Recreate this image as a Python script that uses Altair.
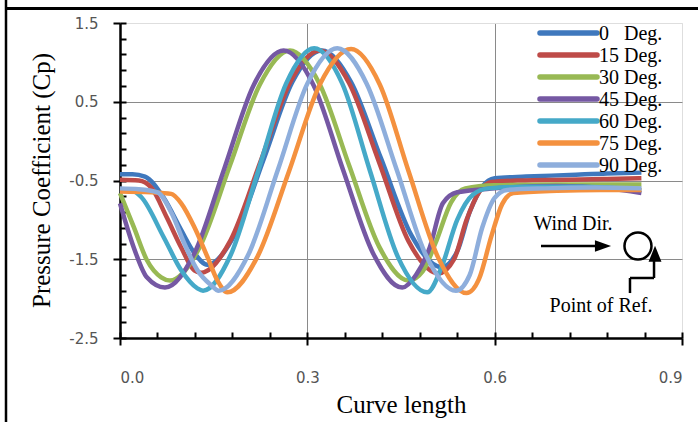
import altair as alt
import pandas as pd

# ---------------- data ----------------
series = ["0 Deg.", "15 Deg.", "30 Deg.", "45 Deg.", "60 Deg.", "75 Deg.", "90 Deg."]
legend_labels = ["0\u00a0\u00a0 Deg.", "15 Deg.", "30 Deg.", "45 Deg.", "60 Deg.", "75 Deg.", "90 Deg."]
colors = ["#3f78bd", "#be4b48", "#98b954", "#7558a3", "#45a9c8", "#f4913f", "#8eaedc"]

x_0 = [0, 0.02, 0.04, 0.07, 0.098, 0.119, 0.14, 0.185, 0.231, 0.276, 0.323, 0.37, 0.418, 0.467, 0.515, 0.54, 0.56, 0.58, 0.6, 0.65, 0.72, 0.78, 0.835]
y_0 = [-0.42, -0.42, -0.45, -0.72, -1.13, -1.42, -1.57, -1.17, -0.21, 0.75, 1.15, 0.75, -0.22, -1.2, -1.6, -1.4, -0.9, -0.58, -0.47, -0.45, -0.43, -0.41, -0.40]

x_15 = [0, 0.03, 0.05, 0.075, 0.098, 0.119, 0.13, 0.177, 0.225, 0.272, 0.32, 0.367, 0.415, 0.462, 0.51, 0.535, 0.555, 0.575, 0.595, 0.64, 0.72, 0.78, 0.835]
y_15 = [-0.49, -0.5, -0.59, -0.97, -1.35, -1.64, -1.67, -1.26, -0.26, 0.74, 1.15, 0.735, -0.27, -1.27, -1.68, -1.5, -1.0, -0.65, -0.52, -0.5, -0.49, -0.48, -0.47]

x_30 = [0, 0.022, 0.043, 0.066, 0.08, 0.128, 0.176, 0.224, 0.272, 0.32, 0.367, 0.415, 0.462, 0.485, 0.505, 0.53, 0.553, 0.6, 0.7, 0.835]
y_30 = [-0.66, -1.09, -1.51, -1.73, -1.77, -1.34, -0.31, 0.72, 1.15, 0.72, -0.31, -1.34, -1.77, -1.65, -1.3, -0.78, -0.6, -0.56, -0.55, -0.55]

x_45 = [0, 0.022, 0.043, 0.072, 0.12, 0.167, 0.214, 0.262, 0.31, 0.357, 0.405, 0.452, 0.474, 0.496, 0.517, 0.54, 0.6, 0.7, 0.78, 0.835]
y_45 = [-0.79, -1.35, -1.73, -1.86, -1.41, -0.35, 0.71, 1.15, 0.71, -0.36, -1.42, -1.86, -1.7, -1.35, -0.79, -0.65, -0.6, -0.57, -0.6, -0.66]

x_60 = [0, 0.02, 0.034, 0.07, 0.098, 0.124, 0.133, 0.177, 0.222, 0.266, 0.311, 0.356, 0.40, 0.445, 0.492, 0.515, 0.54, 0.565, 0.59, 0.65, 0.74, 0.835]
y_60 = [-0.62, -0.63, -0.71, -1.22, -1.64, -1.87, -1.9, -1.45, -0.36, 0.73, 1.18, 0.73, -0.37, -1.47, -1.92, -1.6, -1.0, -0.68, -0.6, -0.58, -0.58, -0.62]

x_75 = [0, 0.05, 0.082, 0.098, 0.119, 0.14, 0.156, 0.172, 0.22, 0.271, 0.32, 0.37, 0.416, 0.462, 0.509, 0.555, 0.575, 0.595, 0.612, 0.63, 0.7, 0.77, 0.835]
y_75 = [-0.64, -0.65, -0.67, -0.79, -1.09, -1.47, -1.77, -1.92, -1.47, -0.375, 0.72, 1.17, 0.72, -0.38, -1.47, -1.93, -1.75, -1.2, -0.8, -0.66, -0.63, -0.62, -0.62]

x_90 = [0, 0.03, 0.06, 0.083, 0.103, 0.124, 0.146, 0.158, 0.205, 0.253, 0.30, 0.348, 0.395, 0.443, 0.49, 0.538, 0.56, 0.58, 0.6, 0.62, 0.68, 0.76, 0.835]
y_90 = [-0.6, -0.61, -0.65, -0.92, -1.3, -1.64, -1.83, -1.9, -1.45, -0.36, 0.73, 1.18, 0.73, -0.36, -1.45, -1.9, -1.7, -1.1, -0.72, -0.62, -0.6, -0.59, -0.6]

x_ticks_major = [0.0, 0.3, 0.6, 0.9]
x_ticks_minor = [0.0, 0.06, 0.12, 0.18, 0.24, 0.3, 0.36, 0.42, 0.48, 0.54, 0.6, 0.66, 0.72, 0.78, 0.84, 0.9]
y_ticks_major = [-2.5, -1.5, -0.5, 0.5, 1.5]
y_ticks_minor = [-2.5, -2.3, -2.1, -1.9, -1.7, -1.5, -1.3, -1.1, -0.9, -0.7, -0.5, -0.3, -0.1,
                 0.1, 0.3, 0.5, 0.7, 0.9, 1.1, 1.3, 1.5]

xs_all = [x_0, x_15, x_30, x_45, x_60, x_75, x_90]
ys_all = [y_0, y_15, y_30, y_45, y_60, y_75, y_90]

rows = []
for name, xs, ys in zip(series, xs_all, ys_all):
    assert len(xs) == len(ys), name
    for k, (a, b) in enumerate(zip(xs, ys)):
        rows.append({"series": name, "x": a, "cp": b, "k": k})
df = pd.DataFrame(rows)

leg_df = pd.DataFrame({"series": series, "label": legend_labels, "i": list(range(len(series)))})

# annotation layout (plot-coordinates)
ann_text = pd.DataFrame({"label": ["Wind Dir.", "Point of Ref."],
                         "ax": [0.7254, 0.7703], "ay": [-1.129, -2.166]})
ann_segs = pd.DataFrame({"x1": [0.6742, 0.8167, 0.8167, 0.8552],
                         "x2": [0.7687, 0.8167, 0.8552, 0.8552],
                         "y1": [-1.3317, -1.929, -1.738, -1.738],
                         "y2": [-1.3317, -1.738, -1.738, -1.50]})
ann_heads = pd.DataFrame({"hx": [0.7735, 0.8568], "hy": [-1.3317, -1.43],
                          "shape": ["M-1,-0.7L1,0L-1,0.7Z", "M0,-1L0.8,1L-0.8,1Z"]})
ann_circle = pd.DataFrame({"cx": [0.8295], "cy": [-1.3317]})

# ---------------- chart ----------------
xscale = alt.Scale(domain=[0, 0.9], nice=False, zero=False)
yscale = alt.Scale(domain=[-2.5, 1.5], nice=False, zero=False)
cscale = alt.Scale(domain=series, range=colors)

serif = "Liberation Serif"
label_font = "DejaVu Sans"

x_axis = alt.Axis(values=x_ticks_major, format=".1f", orient="bottom", title="Curve length",
                  domainColor="black", domainWidth=2.5, tickColor="black", tickWidth=2, tickSize=7,
                  labelFont=label_font, labelFontSize=15, labelColor="#555555", labelPadding=25,
                  grid=True, gridWidth=1,
                  gridColor={"condition": {"test": "datum.value > 0.85", "value": "#dedede"}, "value": "#8a8a8a"},
                  titleFont=serif, titleFontSize=25, titleFontWeight="normal", titleColor="black",
                  titleY=74, titleBaseline="alphabetic")
y_axis = alt.Axis(values=y_ticks_major, orient="left", title="Pressure Coefficient (Cp)",
                  labelExpr="datum.value < 0 ? '-' + format(-datum.value, '.1f') : format(datum.value, '.1f')",
                  domainColor="black", domainWidth=2.5, tickColor="black", tickWidth=2, tickSize=7,
                  labelFont=label_font, labelFontSize=15, labelColor="#555555", labelPadding=15,
                  grid=True, gridWidth=1,
                  gridColor={"condition": {"test": "datum.value > 1.4", "value": "#dedede"}, "value": "#8a8a8a"},
                  titleFont=serif, titleFontSize=25, titleFontWeight="normal", titleColor="black",
                  titleX=-71, titleY=157, titleAngle=270, titleBaseline="alphabetic", titleAlign="center")

x_minor = alt.Axis(values=x_ticks_minor, orient="bottom", offset=-6, tickSize=6, tickWidth=2,
                   tickColor="black", labels=False, domain=False, grid=False, title=None)
y_minor = alt.Axis(values=y_ticks_minor, orient="left", offset=-6, tickSize=6, tickWidth=2,
                   tickColor="black", labels=False, domain=False, grid=False, title=None)

lines = alt.Chart(df).mark_line(strokeWidth=4.5, interpolate="monotone").encode(
    x=alt.X("x:Q", scale=xscale, axis=x_axis),
    y=alt.Y("cp:Q", scale=yscale, axis=y_axis),
    color=alt.Color("series:N", scale=cscale, legend=None),
    order="k:Q",
)

leg_base = alt.Chart(leg_df).transform_calculate(
    ly="1.373 - datum.i * 0.2794", lx="0.6726", lx2="0.7639", tx="0.7671")
leg_lines = leg_base.mark_rule(strokeWidth=5.5, strokeCap="round").encode(
    x=alt.X("lx:Q", scale=xscale, axis=None), x2="lx2:Q",
    y=alt.Y("ly:Q", scale=yscale, axis=None),
    color=alt.Color("series:N", scale=cscale, legend=None),
)
leg_text = leg_base.mark_text(align="left", baseline="alphabetic", dy=7, font=serif, fontSize=20,
                              color="black").encode(
    x=alt.X("tx:Q", scale=xscale, axis=None),
    y=alt.Y("ly:Q", scale=yscale, axis=None),
    text="label:N",
)

segs = alt.Chart(ann_segs).mark_rule(strokeWidth=2.5, color="black").encode(
    x=alt.X("x1:Q", scale=xscale, axis=x_minor), x2="x2:Q",
    y=alt.Y("y1:Q", scale=yscale, axis=y_minor), y2="y2:Q",
)
heads = alt.Chart(ann_heads).mark_point(filled=True, color="black", opacity=1, size=260).encode(
    x=alt.X("hx:Q", scale=xscale, axis=None),
    y=alt.Y("hy:Q", scale=yscale, axis=None),
    shape=alt.Shape("shape:N", scale=None),
)
circle = alt.Chart(ann_circle).mark_point(shape="circle", filled=False, color="black", opacity=1,
                                          size=729, strokeWidth=2.5).encode(
    x=alt.X("cx:Q", scale=xscale, axis=None),
    y=alt.Y("cy:Q", scale=yscale, axis=None),
)
texts = alt.Chart(ann_text).mark_text(align="center", baseline="alphabetic", font=serif, fontSize=20,
                                      color="black").encode(
    x=alt.X("ax:Q", scale=xscale, axis=None),
    y=alt.Y("ay:Q", scale=yscale, axis=None),
    text="label:N",
)

frame_df = pd.DataFrame({"f": [0]})
frame_v = alt.Chart(frame_df).mark_rule(color="black", strokeWidth=2.5).encode(
    x=alt.value(-114), y=alt.value(-23), y2=alt.value(399))
frame_h = alt.Chart(frame_df).mark_rule(color="black", strokeWidth=3).encode(
    x=alt.value(-115), x2=alt.value(578), y=alt.value(-14.5))

chart = alt.layer(lines, leg_lines, leg_text, segs, heads, circle, texts, frame_v, frame_h).resolve_axis(
    x="independent", y="independent"
).properties(
    width=562, height=315,
    autosize=alt.AutoSizeParams(type="none"),
    padding={"left": 120, "top": 23, "right": 16, "bottom": 84},
    background="white",
).configure_view(stroke="#dedede", strokeWidth=1)

chart.save("out.html", embed_options={"renderer": "svg", "actions": False})
